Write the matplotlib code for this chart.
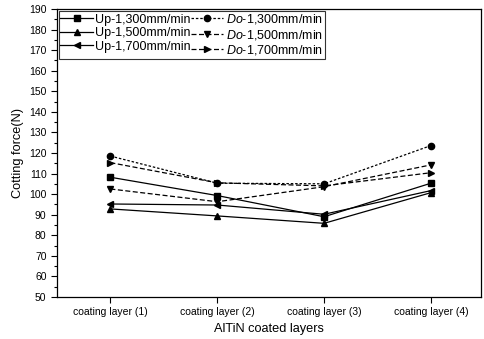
import matplotlib
matplotlib.use("Agg")
import matplotlib.pyplot as plt
from matplotlib.ticker import MultipleLocator

plt.rcParams['font.family'] = ['Liberation Sans', 'DejaVu Sans']
plt.rcParams['mathtext.fontset'] = 'custom'
plt.rcParams['mathtext.it'] = 'Liberation Sans:italic'
plt.rcParams['mathtext.rm'] = 'Liberation Sans'

categories = ["coating layer (1)", "coating layer (2)", "coating layer (3)", "coating layer (4)"]
up_1300 = [108.2, 99.3, 89.0, 105.3]
do_1300 = [118.5, 105.3, 105.0, 123.6]
up_1500 = [92.8, 89.4, 85.8, 100.7]
do_1500 = [102.5, 96.3, 103.6, 114.2]
up_1700 = [95.2, 94.7, 90.2, 101.7]
do_1700 = [115.3, 105.5, 104.0, 110.4]

fig = plt.figure(figsize=(4.85, 3.39), dpi=100)
ax = fig.add_axes([0.1175, 0.124, 0.8745, 0.8495])
x = list(range(1, len(categories) + 1))

kw = dict(color='black', lw=0.9, ms=4.5)
h1, = ax.plot(x, up_1300, '-', marker='s', label='Up-1,300mm/min', **kw)
h2, = ax.plot(x, do_1300, linestyle=(0, (2, 1.5)), marker='o', label=r'$\mathit{Do\text{-}1{,}300}$mm/min', **kw)
h3, = ax.plot(x, up_1500, '-', marker='^', label='Up-1,500mm/min', **kw)
h4, = ax.plot(x, do_1500, linestyle=(0, (4, 2)), marker='v', label=r'$\mathit{Do\text{-}1{,}500}$mm/min', **kw)
h5, = ax.plot(x, up_1700, '-', marker='<', label='Up-1,700mm/min', **kw)
h6, = ax.plot(x, do_1700, linestyle=(0, (4, 2)), marker='>', label=r'$\mathit{Do\text{-}1{,}700}$mm/min', **kw)

ax.set_xlim(0.5, 4.47)
ax.set_ylim(50, 190)
ax.set_xticks(x)
ax.set_xticklabels(categories, fontsize=7.5)
ax.yaxis.set_major_locator(MultipleLocator(10))
ax.yaxis.set_minor_locator(MultipleLocator(5))
ax.tick_params(axis='both', which='both', direction='out', labelsize=7.5, width=0.8)
ax.tick_params(axis='both', which='major', length=4)
ax.tick_params(axis='y', which='minor', length=2)
for s in ax.spines.values():
    s.set_linewidth(0.9)

ax.set_xlabel('AlTiN coated layers', fontsize=9.2, labelpad=4)
ax.set_ylabel('Cotting force(N)', fontsize=9.2, labelpad=4)

handles = [h1, h3, h5, h2, h4, h6]
leg = ax.legend(handles=handles, labels=[h.get_label() for h in handles],
                loc='upper left', ncol=2, fontsize=9, frameon=True, fancybox=False,
                edgecolor='black', borderaxespad=0.15, borderpad=0.12, labelspacing=0.12,
                handlelength=2.6, handletextpad=0.2, columnspacing=0.0)
leg.get_frame().set_linewidth(0.8)

fig.savefig('out.png', dpi=100)
